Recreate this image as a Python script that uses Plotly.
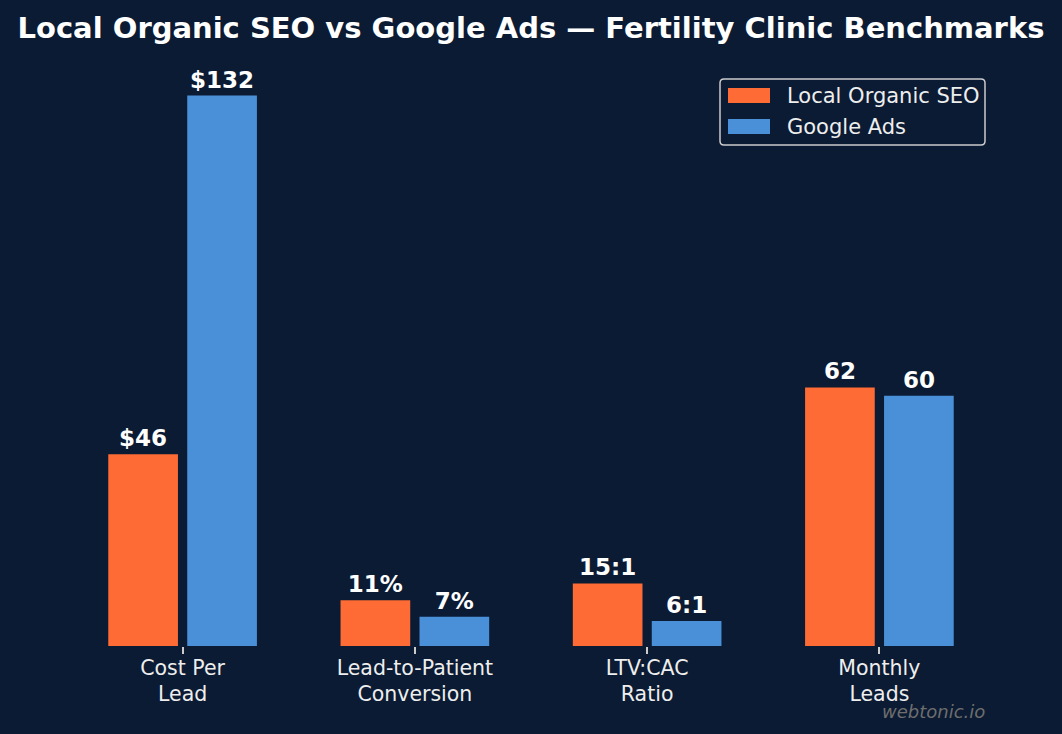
import plotly.graph_objects as go

categories = ["Cost Per<br>Lead", "Lead-to-Patient<br>Conversion", "LTV:CAC<br>Ratio", "Monthly<br>Leads"]
seo_values = [46, 11, 15, 62]
ads_values = [132, 7, 6, 60]
seo_labels = ["$46", "11%", "15:1", "62"]
ads_labels = ["$132", "7%", "6:1", "60"]
series_names = ["Local Organic SEO", "Google Ads"]

BG = "#0B1B33"
ORANGE = "#FF6B35"
BLUE = "#4A90D9"
FONT = "DejaVu Sans"

W, H = 1062, 734
ML, MR, MT, MB = 66, 66, 68, 88
PW, PH = W - ML - MR, H - MT - MB


def px(x):
    return (x - ML) / PW


def py(y):
    return (H - MB - y) / PH


xs = list(range(len(categories)))

fig = go.Figure()
fig.add_trace(go.Bar(
    x=xs, y=seo_values, name=series_names[0], marker_color=ORANGE, marker_line_width=0,
    width=0.3, offset=-0.32, text=seo_labels, textposition="outside",
    textfont=dict(family=FONT, size=23, color="white", weight="bold"),
    cliponaxis=False, constraintext="none", showlegend=False,
))
fig.add_trace(go.Bar(
    x=xs, y=ads_values, name=series_names[1], marker_color=BLUE, marker_line_width=0,
    width=0.3, offset=0.02, text=ads_labels, textposition="outside",
    textfont=dict(family=FONT, size=23, color="white", weight="bold"),
    cliponaxis=False, constraintext="none", showlegend=False,
))

shapes = []
annotations = []
# legend frame
x0, x1, y0, y1 = px(720), px(985), py(79), py(145)
r = 4
rx, ry = r / PW, r / PH
path = (f"M {x0+rx},{y0} L {x1-rx},{y0} Q {x1},{y0} {x1},{y0-ry} L {x1},{y1+ry} Q {x1},{y1} {x1-rx},{y1} "
        f"L {x0+rx},{y1} Q {x0},{y1} {x0},{y1+ry} L {x0},{y0-ry} Q {x0},{y0} {x0+rx},{y0} Z")
shapes.append(dict(type="path", xref="paper", yref="paper", path=path,
                   line=dict(color="#CCCCCC", width=1.5), fillcolor=BG, layer="above"))
for i, (col, name) in enumerate(zip([ORANGE, BLUE], series_names)):
    top = 88 + i * 31
    shapes.append(dict(type="rect", xref="paper", yref="paper",
                       x0=px(728), x1=px(770), y0=py(top), y1=py(top + 15),
                       fillcolor=col, line=dict(width=0), layer="above"))
    annotations.append(dict(xref="paper", yref="paper", x=px(785), y=py(top + 8),
                            xanchor="left", yanchor="middle", showarrow=False, text=name,
                            font=dict(family=FONT, size=21, color="#EEEEEE")))

annotations.append(dict(xref="paper", yref="paper", x=px(987), y=py(711),
                        xanchor="right", yanchor="middle", showarrow=False,
                        text="<i>webtonic.io</i>",
                        font=dict(family=FONT, size=18, color="#6E6E6E")))

fig.update_layout(
    width=W, height=H,
    paper_bgcolor=BG, plot_bgcolor=BG,
    margin=dict(l=ML, r=MR, t=MT, b=MB),
    barmode="overlay",
    title=dict(text="<b>Local Organic SEO vs Google Ads — Fertility Clinic Benchmarks</b>",
               x=0.5, xref="paper", xanchor="center", y=1 - 28 / H, yanchor="middle",
               font=dict(family=FONT, size=29, color="white")),
    xaxis=dict(range=[-0.502, 3.502], tickmode="array", tickvals=xs, ticktext=categories,
               showgrid=False, zeroline=False, showline=False,
               ticks="outside", ticklen=7, tickwidth=1.5, tickcolor="#CCCCCC",
               ticklabelstandoff=-4,
               tickfont=dict(family=FONT, size=20.5, color="#EEEEEE")),
    yaxis=dict(range=[0, 138.6], visible=False, showgrid=False, zeroline=False),
    shapes=shapes,
    annotations=annotations,
    font=dict(family=FONT),
)

fig.write_html("out.html")
